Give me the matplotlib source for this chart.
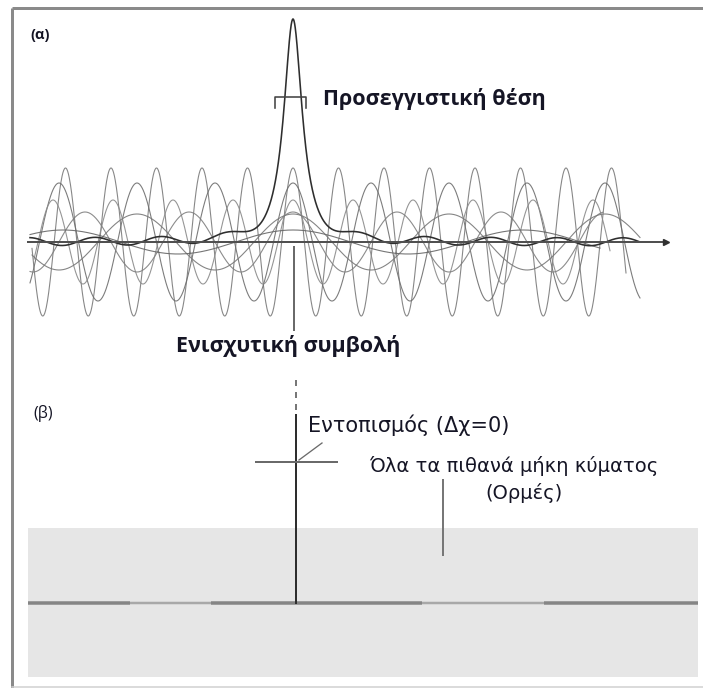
import numpy as np
import matplotlib.pyplot as plt
from matplotlib.patches import Rectangle

plt.rcParams['font.family'] = ['Open Sans', 'DejaVu Sans']

# everything is laid out in pixel units of a 703 x 688 canvas
W, H = 703, 688
PX = 0.72  # one pixel in points at dpi=100

# panel (a): component waves, all in phase at the packet centre
center_x = 293
axis_y = 242
wave_periods = [45.5, 78, 60, 104, 156, 230]
wave_amps = [74, 59, 42, 30, 28, 12]
wave_starts = [32, 30, 34, 30, 32, 30]
wave_ends = [626, 640, 610, 603, 640, 600]
wave_greys = ["#7a7a7a", "#6e6e6e", "#8a8a8a", "#7f7f7f", "#777777", "#666666"]

# resulting packet: height, half width, leftover ripple
peak_height = 219
peak_halfwidth = 11
ripple_amp = 4
ripple_period = 66

# panel (b): baseline shading segments (x from, x to, dark?)
base_segments = [(28, 130, True), (130, 211, False), (211, 422, True),
                 (422, 544, False), (544, 698, True)]

fig = plt.figure(figsize=(W / 100, H / 100), dpi=100)
ax = fig.add_axes([0, 0, 1, 1])
ax.set_xlim(0, W)
ax.set_ylim(H, 0)
ax.axis("off")

txt_col = "#151525"

# outer frame
ax.plot([12, W], [8, 8], color="#8a8a8a", lw=3 * PX, solid_capstyle="butt")
ax.plot([12, 12], [8, H], color="#8a8a8a", lw=3 * PX, solid_capstyle="butt")
ax.plot([12, W], [H - 1.5, H - 1.5], color="#d0d0d0", lw=1.5 * PX)

# ---- (a) ----
ax.text(30, 35, "(α)", fontsize=10.5, fontweight="bold", color=txt_col,
        ha="left", va="center")

for per, amp, x0, x1, col in zip(wave_periods, wave_amps, wave_starts,
                                 wave_ends, wave_greys):
    x = np.linspace(x0, x1, 1500)
    y = axis_y - amp * np.cos(2 * np.pi * (x - center_x) / per)
    ax.plot(x, y, color=col, lw=1.1 * PX, alpha=0.9)

x = np.linspace(30, 640, 3000)
packet = peak_height * peak_halfwidth ** 2 / (peak_halfwidth ** 2 + (x - center_x) ** 2)
packet += ripple_amp * np.cos(2 * np.pi * (x - center_x) / ripple_period)
ax.plot(x, axis_y - packet, color="#2e2e2e", lw=1.6 * PX)

# horizontal axis with arrow
ax.plot([28, 664], [axis_y, axis_y], color="#505050", lw=2 * PX)
ax.plot([666], [axis_y], marker=">", ms=4, color="#303030")

# bracket around the approximate position
ax.plot([275, 275, 306, 306], [108, 97, 97, 108], color="#444444", lw=1.6 * PX)
ax.text(323, 99, "Προσεγγιστική θέση", fontsize=15.5, fontweight="bold",
        color=txt_col, ha="left", va="center")

# marker under the constructive interference point
ax.plot([center_x + 1, center_x + 1], [247, 330], color="#6a6a6a", lw=2 * PX)
ax.text(288, 346, "Ενισχυτική συμβολή", fontsize=15.5, fontweight="bold",
        color=txt_col, ha="center", va="center")

# ---- (b) ----
ax.text(33, 413, "(β)", fontsize=11.5, color=txt_col, ha="left", va="center")

ax.add_patch(Rectangle((28, 528), 670, 149, color="#e6e6e6", lw=0))
for sx0, sx1, dark in base_segments:
    ax.plot([sx0, sx1], [603, 603], color="#858585" if dark else "#a8a8a8",
            lw=(3.5 if dark else 2.5) * PX, solid_capstyle="butt")

spike_x = 296
ax.plot([spike_x, spike_x], [380, 413], color="#777777", lw=2 * PX,
        linestyle=(0, (3, 3)))
ax.plot([spike_x, spike_x], [415, 603], color="#2e2e2e", lw=2 * PX)
ax.plot([256, 337], [462, 462], color="#6a6a6a", lw=2 * PX)
ax.plot([299, 322], [460, 443], color="#6a6a6a", lw=1.3 * PX)
ax.text(308, 425, "Εντοπισμός (Δχ=0)", fontsize=15, color=txt_col,
        family=["Liberation Sans Narrow", "DejaVu Sans"], ha="left", va="center")

ax.plot([443, 443], [480, 555], color="#777777", lw=2 * PX)
ax.text(369, 466, "Όλα τα πιθανά μήκη κύματος", fontsize=14, color=txt_col,
        family=["Liberation Sans Narrow", "DejaVu Sans"], ha="left", va="center")
ax.text(524, 493, "(Ορμές)", fontsize=14, color=txt_col,
        family=["Liberation Sans Narrow", "DejaVu Sans"], ha="center", va="center")

fig.savefig("out.png", dpi=100)
